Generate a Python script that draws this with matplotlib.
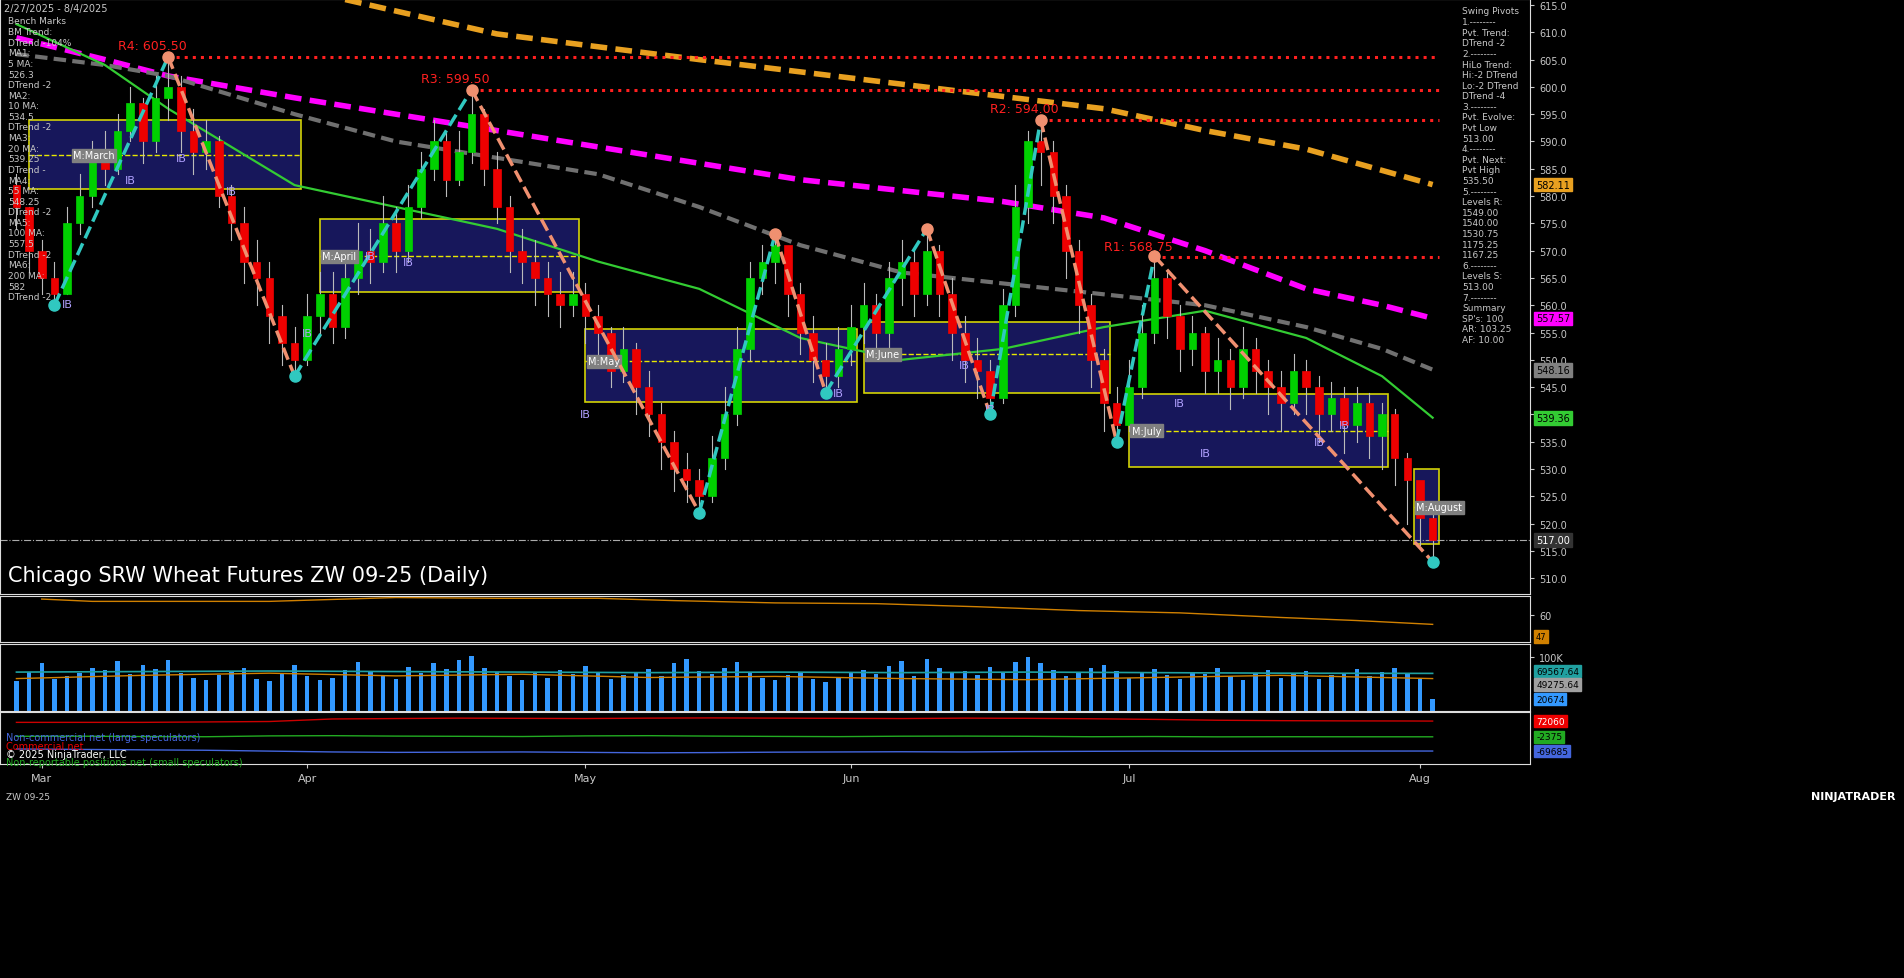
import matplotlib
matplotlib.use("Agg")
import matplotlib.pyplot as plt
import matplotlib.transforms as mtrans

W, H = 1904, 979

# ---- price data (daily bars, index 0 = 2/27/2025) ----
closes = [578, 570, 565, 562,
          575, 580, 588, 585, 592, 597, 590, 598, 600,
          592, 588, 590, 580, 575, 568, 565, 558, 553, 550,
          558, 562, 556, 565, 570, 568, 575, 570, 578, 585, 590, 583, 588, 595,
          585, 578, 570, 568, 565, 562, 560, 562, 558, 555, 548, 552, 545, 540, 535, 530, 528, 525,
          532, 540, 552, 565, 568, 571,
          562, 555, 550, 547,
          552, 556, 560, 555, 565, 568, 562, 570,
          562, 555, 550, 548, 543,
          560, 578, 590, 588,
          580, 570, 560, 550, 542, 538,
          545, 555, 565,
          558, 552, 555, 548, 550, 545, 552, 548, 545, 542, 548, 545, 540, 543, 538, 542, 536, 540, 532, 528, 521, 517]
highs = [584, 578, 572, 568,
         578, 584, 590, 592, 595, 600, 598, 602, 605.5,
         602, 596, 594, 591, 582, 578, 572, 568, 560, 556,
         562, 566, 566, 570, 575, 574, 580, 578, 582, 588, 594, 592, 592, 599.5,
         596, 588, 580, 574, 572, 568, 566, 566, 564, 560, 556, 556, 553, 548, 542, 537, 533, 530,
         536, 545, 556, 568, 571, 573,
         570, 564, 558, 553,
         556, 560, 564, 562, 568, 572, 570, 574,
         571, 565, 558, 554, 550,
         563, 582, 592, 594,
         590, 582, 572, 562, 552, 545,
         550, 560, 569,
         566, 560, 558, 556, 554, 552, 556, 554, 550, 548, 551, 550, 547, 546, 545, 545, 544, 542, 541, 533, 527, 522]
lows = [574, 566, 562, 560,
        562, 573, 578, 582, 584, 590, 586, 588, 594,
        588, 584, 585, 578, 572, 564, 560, 553, 549, 547,
        549, 555, 553, 554, 562, 564, 566, 566, 568, 576, 583, 580, 582, 586,
        582, 575, 566, 564, 560, 558, 556, 558, 553, 550, 545, 546, 540, 536, 530, 526, 524, 522,
        524, 530, 538, 550, 562, 564,
        558, 551, 546, 544,
        545, 549, 553, 550, 552, 560, 558, 560,
        558, 550, 546, 543, 540,
        542, 558, 575, 582,
        575, 565, 555, 545, 537, 535,
        537, 543, 553,
        554, 548, 549, 544, 544, 541, 543, 544, 540, 537, 540, 540, 535, 537, 533, 535, 532, 530, 527, 520, 516, 513]
opens = [582] + closes[:-1]

# moving averages (sampled)
ma_x = [0, 7, 12, 22, 30, 38, 46, 54, 62, 70, 78, 86, 94, 102, 108, 112]
ma20 = [611.5, 604, 596, 582, 578, 574, 568, 563, 554, 550, 552, 556, 559, 554, 547, 539.4]
ma55 = [606, 604, 602, 595, 590, 587, 584, 578, 571, 566, 564, 562, 560, 556, 552, 548.2]
ma100 = [609, 605, 602, 598, 595, 592, 589, 586, 583, 581, 579, 576, 570, 563, 560, 557.6]
ma200_x = [26, 38, 54, 70, 86, 94, 102, 112]
ma200 = [616, 609.7, 605, 600.5, 596, 592, 588.6, 582.1]

# swing pivots
piv_x = [3, 12, 22, 36, 54, 60, 64, 72, 77, 81, 87, 90, 112]
piv_y = [560, 605.5, 547, 599.5, 522, 573, 544, 574, 540, 594, 535, 569, 513]

# resistance levels
res_names = ["R4: 605.50", "R3: 599.50", "R2: 594.00", "R1: 568.75"]
res_vals = [605.5, 599.5, 594.0, 568.75]
res_start = [12, 36, 81, 90]

# monthly boxes
box_start = [1, 24, 45, 67, 88, 110.5]
box_end = [22.5, 44.5, 66.5, 86.5, 108.5, 112.5]
box_low = [581.3, 562.4, 542.2, 544.0, 530.3, 516.2]
box_high = [594.0, 575.8, 555.6, 557.0, 543.7, 530.0]
box_mid = [587.5, 569.0, 549.7, 551.0, 537.0, 523.0]
box_lbl = ["M:March", "M:April", "M:May", "M:June", "M:July", "M:August"]
lbl_shift = [3.5, 0.2, 0.2, 0.2, 0.2, 0.2]

# volume (thousands)
volume = [55, 72, 88, 60, 65, 70, 80, 75, 92, 68, 85, 78, 95, 70, 62, 58, 66, 74, 80, 60,
          55, 70, 85, 64, 58, 62, 76, 90, 72, 66, 60, 82, 70, 88, 78, 95, 102, 80, 72, 65,
          58, 70, 62, 75, 68, 84, 70, 60, 66, 72, 78, 64, 88, 96, 74, 68, 80, 90, 70, 62,
          58, 66, 72, 60, 54, 62, 70, 76, 68, 84, 92, 64, 96, 80, 70, 74, 66, 82, 70, 90,
          100, 88, 76, 64, 72, 80, 86, 74, 62, 70, 78, 66, 60, 72, 68, 80, 64, 58, 70, 76,
          62, 68, 74, 60, 66, 70, 78, 64, 72, 80, 68, 60, 22]
vline_x = [0, 10, 20, 30, 40, 50, 60, 70, 80, 90, 100, 112]
vol_teal = [72, 73, 74, 73, 72, 71, 72, 71, 72, 71, 70, 69.6]
vol_orange = [60, 66, 70, 65, 68, 62, 64, 60, 58, 62, 66, 60]

# oscillator
osc_x = [2, 6, 12, 20, 26, 30, 38, 46, 52, 60, 68, 76, 84, 92, 100, 106, 112]
osc = [96, 93, 93, 93, 96, 98, 97, 97, 94, 91, 90, 86, 81, 78, 72, 68, 63]

# COT
cot_x = list(range(0, 111, 5)) + [112]
cot_red = [66000, 66000, 66000, 68000, 70000, 82000, 84000, 86000, 85000, 84000, 86000, 87000,
           86000, 85000, 84000, 86000, 85000, 83000, 80000, 76000, 74000, 73000, 72500, 72060]
cot_green = [0, 500, -1000, -2000, 2000, 3000, 1000, 0, -1000, 2000, 3000, 1000,
             -500, -1500, 500, 1000, 0, -2000, -1000, -2500, -2000, -2200, -2300, -2375]
cot_blue = [-60000, -62000, -64000, -66000, -70000, -74000, -76000, -75000, -74000, -76000, -78000, -77000,
            -75000, -74000, -73000, -74000, -72000, -71000, -70000, -70500, -70000, -69800, -69700, -69685]

month_idx = [2, 23, 45, 66, 88, 111]
month_lbl = ["Mar", "Apr", "May", "Jun", "Jul", "Aug"]

BG = "black"
TXT = "#c8c8c8"
XL = (-1.3, 119.7)


def px_axes(x0, y0, x1, y1):
    return fig.add_axes([x0 / W, 1 - y1 / H, (x1 - x0) / W, (y1 - y0) / H])


def style(ax):
    ax.set_facecolor(BG)
    for s in ax.spines.values():
        s.set_color("#dddddd")
        s.set_linewidth(0.8)
    ax.yaxis.tick_right()
    ax.tick_params(colors=TXT, labelsize=7, length=3)
    ax.set_xlim(*XL)
    ax.set_xticks([])


def tag(ax, y, text, fc, tc="black", fs=7):
    tr = mtrans.blended_transform_factory(ax.transAxes, ax.transData)
    ax.text(1.004, y, text, transform=tr, fontsize=fs, color=tc, va="center", ha="left",
            bbox=dict(boxstyle="square,pad=0.2", fc=fc, ec=fc), zorder=10, clip_on=False)


fig = plt.figure(figsize=(W / 100, H / 100), dpi=100, facecolor=BG)

# ---------------- main price panel ----------------
ax = px_axes(0, 0, 1530, 595)
style(ax)
ax.set_ylim(507.1, 616.1)
ax.set_yticks(range(510, 616, 5))
ax.set_yticklabels([f"{v:.1f}" for v in range(510, 616, 5)])

for s, e, lo, hi, mid, lb, sh in zip(box_start, box_end, box_low, box_high, box_mid, box_lbl, lbl_shift):
    ax.add_patch(plt.Rectangle((s, lo), e - s, hi - lo, fc="#1a1a66", ec="#e8e800", lw=1.2, alpha=0.9, zorder=1))
    ax.plot([s, e], [mid, mid], color="#e8e800", ls="--", lw=1, zorder=2)
    ax.text(s + sh, mid, lb, fontsize=7, color="white", va="center", zorder=6,
            bbox=dict(boxstyle="square,pad=0.15", fc="#808080", ec="#808080"))

ax.plot(ma200_x, ma200, color="#e8a020", lw=4, ls=(0, (3, 1.5)), zorder=3)
ax.plot(ma_x, ma100, color="#ff00ff", lw=4, ls=(0, (3, 1.5)), zorder=3)
ax.plot(ma_x, ma55, color="#707070", lw=3, ls=(0, (3, 1.5)), zorder=3)
ax.plot(ma_x, ma20, color="#33cc33", lw=1.6, zorder=3)

for nm, v, s in zip(res_names, res_vals, res_start):
    ax.plot([s, 112.5], [v, v], color="#ff2020", ls=":", lw=2.2, zorder=3)
    ax.text(s - 4, v + 0.8, nm, color="#ff2020", fontsize=9, ha="left", va="bottom", zorder=6)

ax.axhline(517, color="#aaaaaa", ls="-.", lw=0.8, zorder=2)

for i, (o, h, l, c) in enumerate(zip(opens, highs, lows, closes)):
    col = "#00d000" if c >= o else "#ee0000"
    ax.plot([i, i], [l, h], color="#bbbbbb", lw=0.8, zorder=4)
    body = max(abs(c - o), 0.3)
    ax.add_patch(plt.Rectangle((i - 0.3, min(o, c)), 0.6, body, fc=col, ec=col, lw=0.5, zorder=5))

for k in range(len(piv_x) - 1):
    up = piv_y[k + 1] > piv_y[k]
    ax.plot(piv_x[k:k + 2], piv_y[k:k + 2], color="#30c8c0" if up else "#f09070",
            ls="--", lw=2.5, zorder=6)
for k, (px, py) in enumerate(zip(piv_x, piv_y)):
    ax.plot(px, py, "o", ms=8, color="#f09070" if k % 2 else "#30c8c0", zorder=7)

for x, y in [(4, 560.3), (13, 587), (9, 583), (17, 581), (28, 569), (31, 568), (23, 555), (45, 540),
             (65, 544), (75, 549), (77, 541), (92, 542), (103, 535), (105, 538), (94, 533)]:
    ax.text(x, y, "IB", color="#b0a0ff", fontsize=8, ha="center", va="center", zorder=6)

ax.text(8 / 1530, 1 - 576 / 595, "Chicago SRW Wheat Futures ZW 09-25 (Daily)", transform=ax.transAxes,
        color="white", fontsize=15, va="center", ha="left", zorder=8)
ax.text(4 / 1530, 1 - 9 / 595, "2/27/2025 - 8/4/2025", transform=ax.transAxes, color=TXT, fontsize=7,
        va="center", zorder=8)

left_lines = ["Bench Marks", "BM Trend:", "DTrend -104%", "MA1:", "5 MA:", "526.3", "DTrend -2", "MA2:",
              "10 MA:", "534.5", "DTrend -2", "MA3:", "20 MA:", "539.25", "DTrend -", "MA4:", "55 MA:",
              "548.25", "DTrend -2", "MA5:", "100 MA:", "557.5", "DTrend -2", "MA6:", "200 MA:", "582",
              "DTrend -2"]
for k, t in enumerate(left_lines):
    ax.text(8 / 1530, 1 - (22 + 10.6 * k) / 595, t, transform=ax.transAxes, color=TXT, fontsize=6.5,
            va="center", zorder=8)

right_lines = ["Swing Pivots", "1.--------", "Pvt. Trend:", "DTrend -2", "2.--------", "HiLo Trend:",
               "Hi:-2 DTrend", "Lo:-2 DTrend", "DTrend -4", "3.--------", "Pvt. Evolve:", "Pvt Low",
               "513.00", "4.--------", "Pvt. Next:", "Pvt High", "535.50", "5.--------", "Levels R:",
               "1549.00", "1540.00", "1530.75", "1175.25", "1167.25", "6.--------", "Levels S:", "513.00",
               "7.--------", "Summary", "SP's: 100", "AR: 103.25", "AF: 10.00"]
for k, t in enumerate(right_lines):
    ax.text(1462 / 1530, 1 - (12 + 10.6 * k) / 595, t, transform=ax.transAxes, color=TXT, fontsize=6.5,
            va="center", zorder=8)

tag(ax, 582.11, "582.11", "#e8a020")
tag(ax, 557.57, "557.57", "#ff00ff")
tag(ax, 548.16, "548.16", "#808080")
tag(ax, 539.36, "539.36", "#33cc33")
tag(ax, 517.0, "517.00", "#333333", "white")

# ---------------- oscillator ----------------
ax2 = px_axes(0, 597, 1530, 643)
style(ax2)
ax2.set_ylim(40, 100)
ax2.set_yticks([75])
ax2.set_yticklabels(["60"])
ax2.plot(osc_x, osc, color="#d08000", lw=1)
tag(ax2, 47, "47", "#d08000", fs=6)

# ---------------- volume ----------------
ax3 = px_axes(0, 645, 1530, 712)
style(ax3)
ax3.set_ylim(0, 124)
ax3.set_yticks([100])
ax3.set_yticklabels(["100K"])
ax3.bar(range(len(volume)), volume, width=0.35, color="#3399ff")
ax3.plot(vline_x, vol_teal, color="#20a0a0", lw=1.2)
ax3.plot(vline_x, vol_orange, color="#d08000", lw=1)
tag(ax3, 74, "69567.64", "#20a0a0", fs=6.5)
tag(ax3, 49.3, "49275.64", "#a0a0a0", fs=6.5)
tag(ax3, 22, "20674", "#3399ff", fs=6.5)

# ---------------- COT ----------------
ax4 = px_axes(0, 713, 1530, 765)
style(ax4)
ax4.set_ylim(-131000, 115000)
ax4.set_yticks([])
ax4.plot(cot_x, cot_red, color="#cc0000", lw=1)
ax4.plot(cot_x, cot_green, color="#22aa22", lw=1)
ax4.plot(cot_x, cot_blue, color="#4466dd", lw=1)
tag(ax4, 72060, "72060", "#ee0000", "white", fs=6.5)
tag(ax4, -2375, "-2375", "#22aa22", fs=6.5)
tag(ax4, -69685, "-69685", "#4466dd", fs=6.5)
ax4.text(6 / 1530, 1 - 25 / 52, "Non-commercial net (large speculators)", transform=ax4.transAxes,
         color="#4466dd", fontsize=7, va="center")
ax4.text(6 / 1530, 1 - 34 / 52, "Commercial net", transform=ax4.transAxes, color="#ee0000", fontsize=7,
         va="center")
ax4.text(6 / 1530, 1 - 42 / 52, "© 2025 NinjaTrader, LLC", transform=ax4.transAxes, color="white",
         fontsize=7, va="center")
ax4.text(6 / 1530, 1 - 50 / 52, "Non-reportable positions net (small speculators)", transform=ax4.transAxes,
         color="#22aa22", fontsize=7, va="center")
ax4.set_xticks(month_idx)
ax4.set_xticklabels(month_lbl)
ax4.tick_params(axis="x", colors=TXT, labelsize=8, length=3)

fig.text(6 / W, 1 - 797 / H, "ZW 09-25", color=TXT, fontsize=6.5, va="center")
fig.text(1895 / W, 1 - 797 / H, "NINJATRADER", color="white", fontsize=8, fontweight="bold",
         ha="right", va="center")

fig.savefig("out.png", dpi=100, facecolor=BG)
